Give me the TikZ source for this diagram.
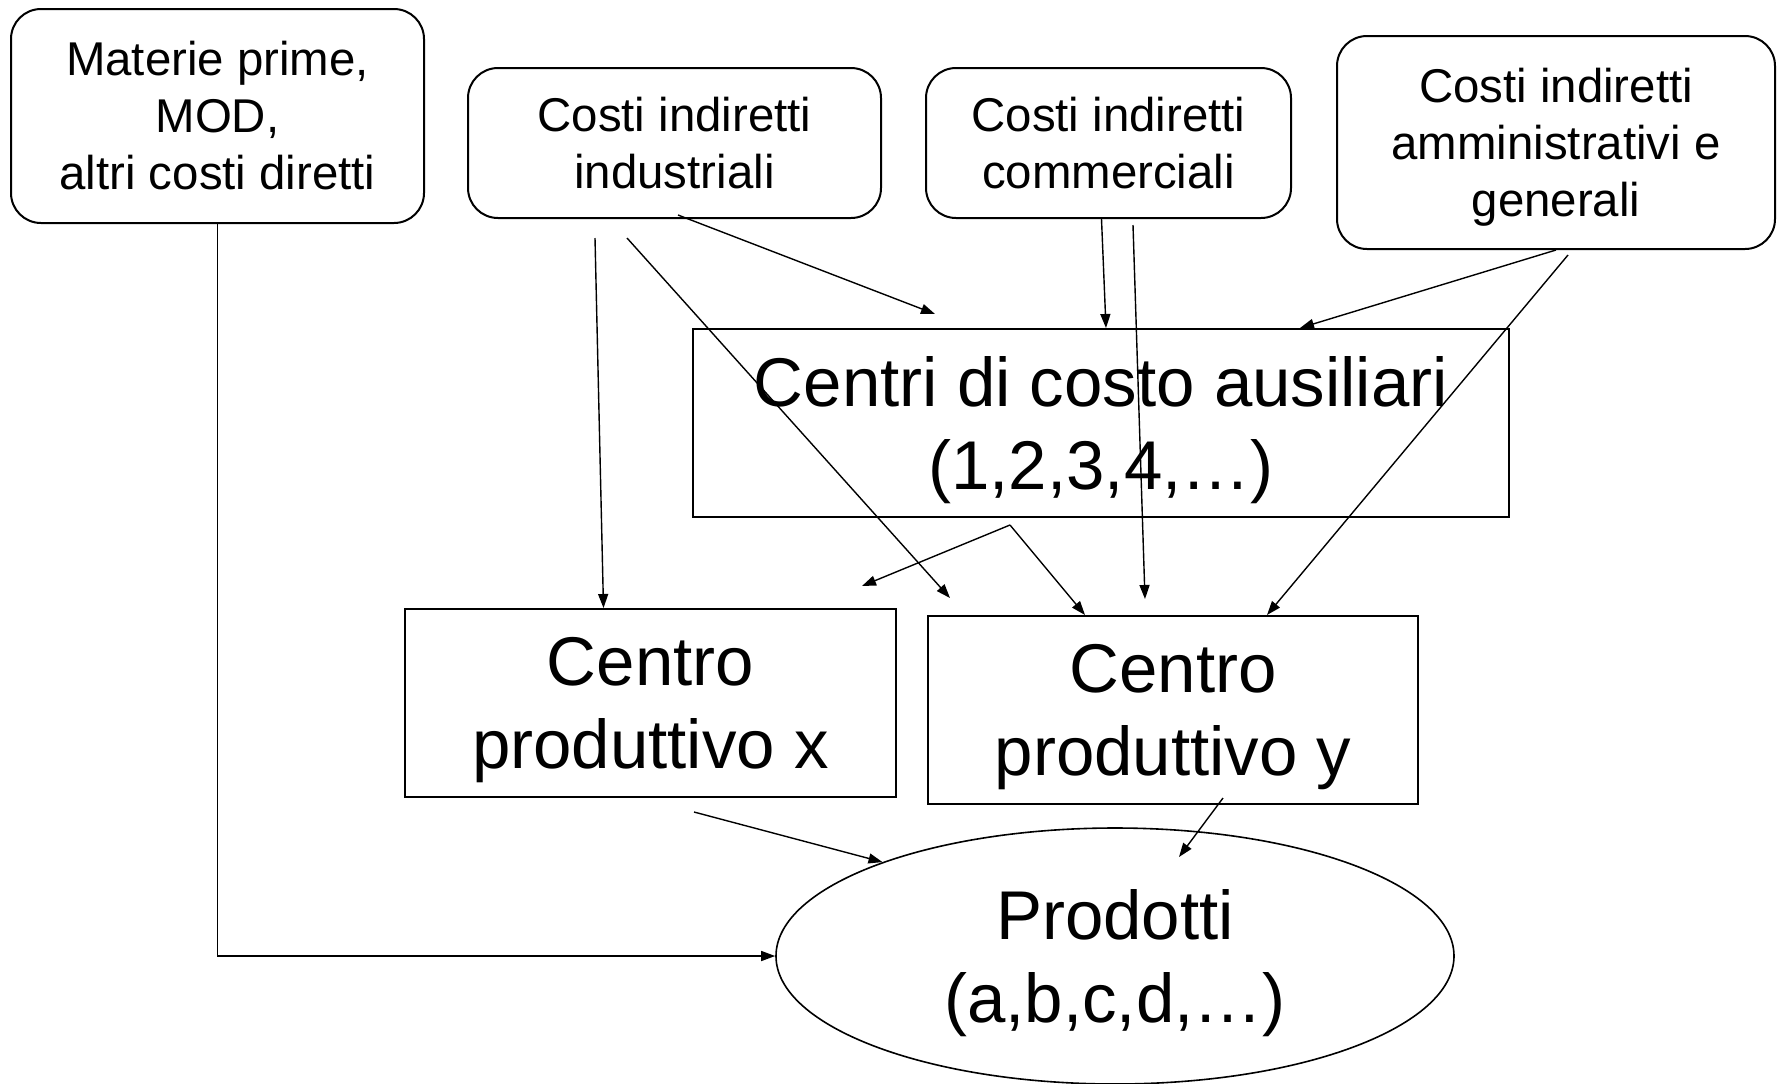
\documentclass[tikz,border=0pt]{standalone}
\usepackage{fontspec}
\setmainfont{Liberation Sans}
\usetikzlibrary{arrows.meta,calc,shapes.geometric}

\tikzset{
	costbox/.style={draw, line width=1pt, rounded corners=15pt, align=center, inner sep=0pt,
		font=\fontsize{23.7}{28.5}\selectfont},
	centrebox/.style={draw, line width=1pt, align=center, inner sep=0pt,
		font=\fontsize{34.5}{41.5}\selectfont, text depth=-1pt},
	flow/.style={-{Triangle[length=7pt,width=5pt]}, line width=0.7pt},
}

\begin{document}
\begin{tikzpicture}[x=0.5pt, y=-0.5pt]
		%%%%% START %%%%%
		\useasboundingbox (0,0) rectangle (1778,1083);
		
		\node[costbox, minimum width=206.5pt, minimum height=107pt] (mat) at (217.5,116) {Materie prime,\\MOD,\\altri costi diretti};
		\node[costbox, minimum width=206.5pt, minimum height=75pt, text depth=-3pt] (ind) at (674.5,143) {Costi indiretti\\industriali};
		\node[costbox, minimum width=182.5pt, minimum height=75pt, text depth=-3pt] (com) at (1108.5,143) {Costi indiretti\\commerciali};
		\node[costbox, minimum width=219pt, minimum height=106.5pt, text depth=0pt] (amm) at (1556,142.5) {Costi indiretti\\amministrativi e\\generali};
		
		\node[centrebox, minimum width=408pt, minimum height=94pt] (aus) at (1101,423) {Centri di costo ausiliari\\(1,2,3,4,…)};
		\node[centrebox, minimum width=245.5pt, minimum height=94pt] (cx) at (650.5,703) {Centro\\produttivo x};
		\node[centrebox, minimum width=245pt, minimum height=94pt] (cy) at (1173,710) {Centro\\produttivo y};
		
		\node[ellipse, draw, line width=0.8pt, inner sep=0pt, minimum width=339pt, minimum height=128pt,
			font=\fontsize{34.5}{41.5}\selectfont, align=center, text depth=-7pt] (prod) at (1115,956) {Prodotti\\(a,b,c,d,…)};
		
		% free ends
		\coordinate (i1) at (595,238);
		\coordinate (i2) at (627,238);
		\coordinate (i3) at (678,215);
		\coordinate (c2) at (1133,225);
		\coordinate (a1) at (1568,255);
		\coordinate (s1) at (1010,525);
		\coordinate (x1) at (694,812);
		\coordinate (y1) at (1223,798);
		\coordinate (e1) at (950,598);
		\coordinate (e2) at (935,314);
		\coordinate (e3) at (1145,599);
		\coordinate (e4) at (862,586);
		\coordinate (e5) at (1179,857);
		
		\draw[flow] (mat.south) |- (prod.west);
		
		\draw[flow] (i1) -- ($(cx.north)+(-47,0)$);
		\draw[flow] (i2) -- (e1);
		\draw[flow] (i3) -- (e2);
		
		\draw[flow] ($(com.south)+(-7,0)$) -- ($(aus.north)+(5,0)$);
		\draw[flow] (c2) -- (e3);
		
		\draw[flow] (amm.south) -- ($(aus.north east)+(-210,0)$);
		\draw[flow] (a1) -- ($(cy.north)+(94,0)$);
		
		\draw[flow] (s1) -- (e4);
		\draw[flow] (s1) -- ($(cy.north west)+(158,0)$);
		
		\draw[flow] (x1) -- (prod.158);
		\draw[flow] (y1) -- (e5);
		%%%%% END %%%%%
\end{tikzpicture}
\end{document}
